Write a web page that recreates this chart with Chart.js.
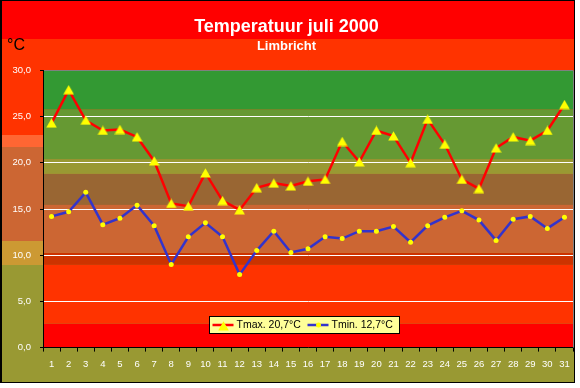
<!DOCTYPE html>
<html>
<head>
<meta charset="utf-8">
<script src="https://cdn.jsdelivr.net/npm/chart.js@4/dist/chart.umd.min.js"></script>
<style>
html,body{margin:0;padding:0;background:#ffffff;}
canvas{display:block;}
</style>
</head>
<body>
<canvas id="c" width="580" height="388"></canvas>
<script>
// ---- data ----
const days = ['1','2','3','4','5','6','7','8','9','10','11','12','13','14','15','16','17','18','19','20','21','22','23','24','25','26','27','28','29','30','31'];
const tmax = [24.3, 27.9, 24.6, 23.5, 23.6, 22.8, 20.2, 15.6, 15.3, 18.9, 15.9, 14.9, 17.3, 17.8, 17.5, 18.0, 18.2, 22.3, 20.1, 23.5, 22.9, 20.0, 24.7, 22.0, 18.2, 17.2, 21.6, 22.8, 22.4, 23.5, 26.3];
const tmin = [14.2, 14.7, 16.8, 13.3, 14.0, 15.4, 13.2, 9.0, 12.0, 13.5, 12.0, 7.9, 10.5, 12.6, 10.3, 10.7, 12.0, 11.8, 12.6, 12.6, 13.1, 11.4, 13.2, 14.1, 14.8, 13.8, 11.6, 13.9, 14.2, 12.9, 14.1];
const seriesLabels = ['Tmax. 20,7°C', 'Tmin. 12,7°C'];
const yTicks = [0, 5, 10, 15, 20, 25, 30];
const bandLimits = [0, 2.6, 8.95, 10.25, 15.45, 18.8, 20.4, 25.8, 30];
const titleText = 'Temperatuur juli 2000';
const subtitleText = 'Limbricht';
const unitText = '°C';

// ---- styles ----
const FONT = "'Liberation Sans', Arial, sans-serif";
Chart.defaults.font.family = FONT;
const bandColors = ['#FF0000', '#FF3300', '#CC3300', '#CC6633', '#996633', '#999933', '#669933', '#339933'];
const frameBands = [[0, 39, '#FF0000'], [39, 135, '#FF3300'], [135, 147, '#FF6633'], [147, 241, '#CC6633'], [241, 265, '#CC9933'], [265, 383, '#999933']];

function triangleImg() {
  const c = document.createElement('canvas');
  c.width = 11; c.height = 10;
  const g = c.getContext('2d');
  g.fillStyle = '#FFFF00';
  g.beginPath();
  g.moveTo(5.5, 0.3);
  g.lineTo(10.8, 9.6);
  g.lineTo(0.2, 9.6);
  g.closePath();
  g.fill();
  return c;
}
const tri = triangleImg();

const backgroundPlugin = {
  id: 'bg',
  beforeDraw(chart) {
    const ctx = chart.ctx;
    const ca = chart.chartArea;
    const y = chart.scales.y;
    ctx.save();
    ctx.fillStyle = '#FFFFFF';
    ctx.fillRect(0, 0, chart.width, chart.height);
    frameBands.forEach(b => { ctx.fillStyle = b[2]; ctx.fillRect(0, b[0], 575, b[1] - b[0]); });
    // plot bands
    for (let i = 0; i < bandColors.length; i++) {
      const yb = y.getPixelForValue(bandLimits[i]);
      const yt = y.getPixelForValue(bandLimits[i + 1]);
      ctx.fillStyle = bandColors[i];
      ctx.fillRect(ca.left, yt, ca.right - ca.left, yb - yt);
    }
    // frame border
    ctx.fillStyle = '#000000';
    ctx.fillRect(0, 0, 2, 383);
    ctx.fillRect(0, 0, 575, 1);
    ctx.fillRect(574, 0, 1, 383);
    ctx.fillRect(0, 382, 575, 1);
    // unit label
    ctx.fillStyle = '#000000';
    ctx.font = '16px ' + FONT;
    ctx.textBaseline = 'alphabetic';
    ctx.textAlign = 'left';
    ctx.fillText(unitText, 7, 50);
    ctx.restore();
  },
  beforeDatasetsDraw(chart) {
    const ctx = chart.ctx;
    const ca = chart.chartArea;
    ctx.save();
    ctx.strokeStyle = '#808080';
    ctx.lineWidth = 1;
    ctx.beginPath();
    ctx.moveTo(Math.round(ca.right) + 0.5, ca.top);
    ctx.lineTo(Math.round(ca.right) + 0.5, ca.bottom);
    ctx.stroke();
    ctx.restore();
  },
  afterDatasetsDraw(chart) {
    const ctx = chart.ctx;
    const ca = chart.chartArea;
    const lx = Math.round(ca.left + 166) + 0.5;
    const ly = Math.round(ca.bottom - 32) + 0.5;
    const lw = 190, lh = 17;
    ctx.save();
    ctx.fillStyle = '#FFFF99';
    ctx.fillRect(lx, ly, lw, lh);
    ctx.strokeStyle = '#000000';
    ctx.lineWidth = 1;
    ctx.strokeRect(lx, ly, lw, lh);
    const my = ly + lh / 2;
    const starts = [lx + 3, lx + 98];
    chart.data.datasets.forEach((ds, i) => {
      const sx = starts[i];
      ctx.strokeStyle = ds.borderColor;
      ctx.lineWidth = 2.5;
      ctx.beginPath();
      ctx.moveTo(sx, my);
      ctx.lineTo(sx + 21, my);
      ctx.stroke();
      if (i === 0) {
        ctx.drawImage(tri, sx + 11 - 5.5, my - 4);
      } else {
        ctx.fillStyle = '#FFFF00';
        ctx.beginPath();
        ctx.arc(sx + 11, my, 2.5, 0, Math.PI * 2);
        ctx.fill();
      }
      ctx.fillStyle = '#000000';
      ctx.font = '10.5px ' + FONT;
      ctx.textBaseline = 'middle';
      ctx.textAlign = 'left';
      ctx.fillText(ds.label, sx + 24, my + 0.5);
    });
    ctx.restore();
  }
};

new Chart(document.getElementById('c'), {
  type: 'line',
  data: {
    labels: days,
    datasets: [
      {
        label: seriesLabels[0],
        data: tmax,
        borderColor: '#FF0000',
        borderWidth: 2.5,
        tension: 0,
        pointStyle: tri,
        pointRadius: 5,
        pointBackgroundColor: '#FFFF00',
        pointBorderWidth: 0,
        fill: false
      },
      {
        label: seriesLabels[1],
        data: tmin,
        borderColor: '#3333CC',
        borderWidth: 2.5,
        tension: 0,
        pointStyle: 'circle',
        pointRadius: 2.5,
        pointBackgroundColor: '#FFFF00',
        pointBorderWidth: 0,
        fill: false
      }
    ]
  },
  options: {
    responsive: false,
    animation: false,
    devicePixelRatio: 1,
    layout: { padding: { left: 0, right: 7, top: 0, bottom: 0 } },
    plugins: {
      legend: { display: false },
      tooltip: { enabled: false },
      title: {
        display: true,
        text: titleText,
        color: '#FFFFFF',
        font: { size: 18, weight: 'bold', family: FONT, lineHeight: 1.2 },
        padding: { top: 16, bottom: 1 }
      },
      subtitle: {
        display: true,
        text: subtitleText,
        color: '#FFFFFF',
        font: { size: 13, weight: 'bold', family: FONT, lineHeight: 1.2 },
        padding: { top: 0, bottom: 16.2 }
      }
    },
    scales: {
      x: {
        type: 'category',
        offset: true,
        afterFit(s) { s.height = 40.4; },
        grid: { display: true, drawOnChartArea: false, drawTicks: true, tickLength: 4, tickColor: '#000000', offset: true },
        border: { display: true, color: '#000000', width: 1 },
        ticks: { color: '#FFFFFF', font: { size: 9.5, family: FONT }, padding: 7, autoSkip: false, maxRotation: 0 }
      },
      y: {
        min: 0,
        max: 30,
        afterFit(s) { s.width = 43; },
        afterBuildTicks(s) { s.ticks = yTicks.map(v => ({ value: v })); },
        grid: {
          color: c => (c.tick && c.tick.value === 30) ? '#808080' : (c.tick && c.tick.value === 0 ? 'rgba(0,0,0,0)' : '#FFFFFF'),
          lineWidth: 1,
          drawTicks: true,
          tickLength: 3,
          tickColor: '#000000'
        },
        border: { display: true, color: '#000000', width: 1 },
        ticks: {
          color: '#FFFFFF',
          font: { size: 9.5, family: FONT },
          padding: 9,
          callback: v => v.toFixed(1).replace('.', ',')
        }
      }
    }
  },
  plugins: [backgroundPlugin]
});
</script>
</body>
</html>
